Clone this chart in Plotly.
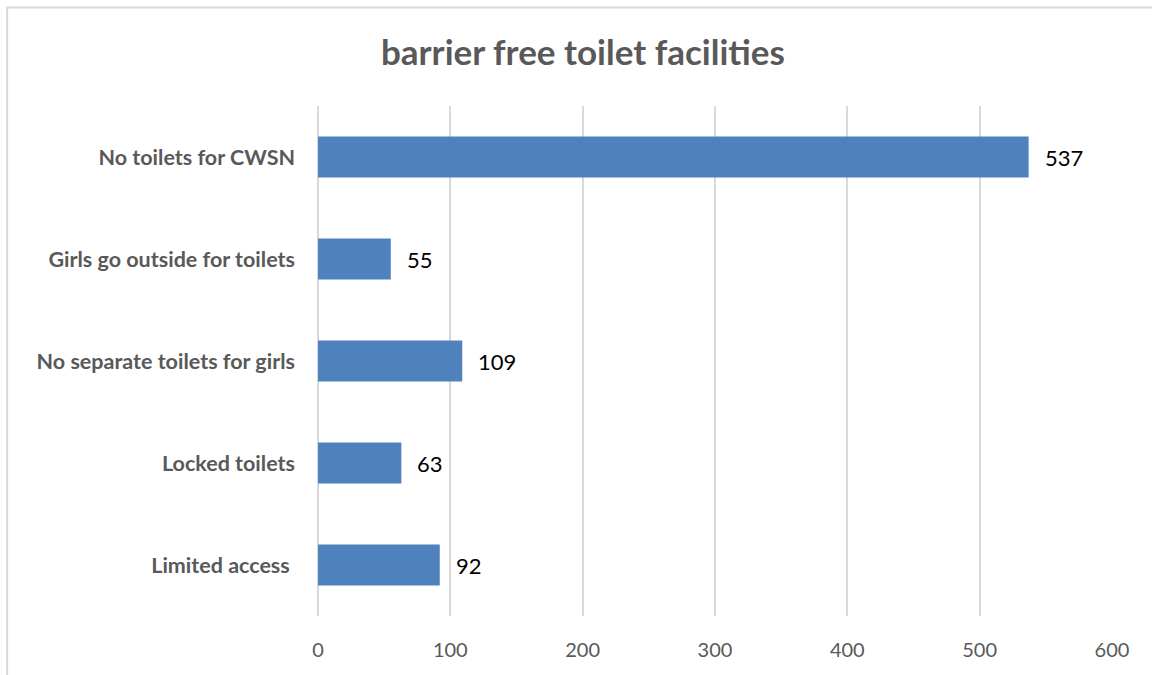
import plotly.graph_objects as go

categories = [
    "No toilets for CWSN",
    "Girls go outside for toilets",
    "No separate toilets for girls",
    "Locked toilets",
    "Limited access\u00a0",
]
values = [537, 55, 109, 63, 92]
x_ticks = [0, 100, 200, 300, 400, 500, 600]

BAR_COLOR = "#4f81bd"
GRID = "#d9d9d9"
TEXT_GRAY = "#595959"
FONT = "Lato"

fig = go.Figure()
fig.add_trace(go.Bar(
    y=categories,
    x=values,
    orientation="h",
    marker=dict(color=BAR_COLOR, line=dict(width=0)),
    width=0.4,
    hoverinfo="skip",
))

# value labels just outside each bar end
for cat, val in zip(categories, values):
    fig.add_annotation(
        x=val, y=cat, text=str(val), showarrow=False,
        xanchor="left", xshift=14,
        font=dict(family=FONT, size=22, color="#000000"),
    )

# chart outer frame
fig.add_shape(
    type="rect", xref="paper", yref="paper",
    x0=-0.3915, x1=1.2, y0=-0.3, y1=1.1931,
    line=dict(color=GRID, width=2), fillcolor="rgba(0,0,0,0)", layer="below",
)

fig.update_layout(
    width=1152, height=675,
    margin=dict(l=318, r=40, t=106, b=59),
    paper_bgcolor="white", plot_bgcolor="white",
    showlegend=False,
    title=dict(
        text="<b>barrier free toilet facilities</b>",
        x=0.506, xanchor="center", y=0.922, yanchor="middle",
        font=dict(family=FONT, size=35, color=TEXT_GRAY),
    ),
    xaxis=dict(
        range=[0, 600], tickvals=x_ticks,
        showgrid=True, gridcolor=GRID, gridwidth=1.5,
        zeroline=True, zerolinecolor=GRID, zerolinewidth=1.5,
        showline=False, ticks="",
        ticklabelstandoff=20,
        tickfont=dict(family=FONT, size=20, color=TEXT_GRAY),
        fixedrange=True,
    ),
    yaxis=dict(
        categoryorder="array", categoryarray=categories[::-1],
        showgrid=False, zeroline=False, showline=False, ticks="",
        ticklabelstandoff=22,
        tickfont=dict(family=FONT, size=21.5, color=TEXT_GRAY, weight="bold"),
        fixedrange=True,
    ),
    bargap=0.6,
)

fig.write_html("out.html")
